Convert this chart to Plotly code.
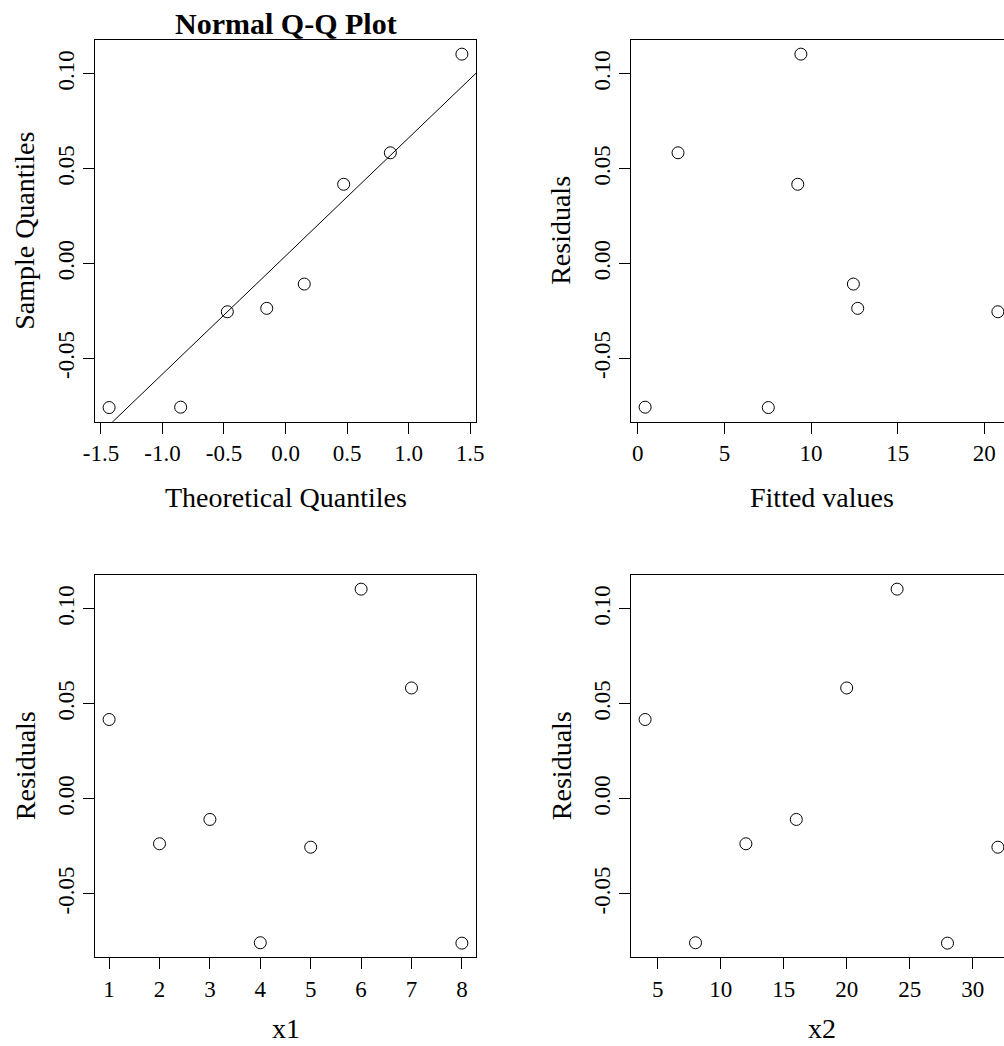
import numpy as np
import plotly.graph_objects as go

# ---------------- data ----------------
x1 = [1, 2, 3, 4, 5, 6, 7, 8]
x2 = [4, 12, 16, 8, 32, 24, 20, 28]
residuals = [0.0418, -0.0236, -0.0108, -0.0757, -0.0254, 0.1104, 0.0584, -0.0759]
fitted = [9.23, 12.69, 12.44, 0.42, 20.78, 9.41, 2.32, 7.53]
theoretical_q = [-1.4338, -0.8524, -0.4728, -0.1525, 0.1525, 0.4728, 0.8524, 1.4338]
sample_q = sorted(residuals)

qq_xticks = [-1.5, -1.0, -0.5, 0.0, 0.5, 1.0, 1.5]
qq_xticktext = ["-1.5", "-1.0", "-0.5", "0.0", "0.5", "1.0", "1.5"]
fit_xticks = [0, 5, 10, 15, 20]
fit_xticktext = ["0", "5", "10", "15", "20"]
x1_ticks = [1, 2, 3, 4, 5, 6, 7, 8]
x1_ticktext = ["1", "2", "3", "4", "5", "6", "7", "8"]
x2_ticks = [5, 10, 15, 20, 25, 30]
x2_ticktext = ["5", "10", "15", "20", "25", "30"]
resid_yticks = [-0.05, 0.0, 0.05, 0.10]
resid_yticktext = ["-0.05", "0.00", "0.05", "0.10"]

# ---------------- layout helpers ----------------
W, H = 1004, 1046
FONT = "Liberation Serif"
LX0, LX1 = 95, 476
RX0, RX1 = 631, 1012      # right panels extend past the page edge
TY0, TY1 = 40, 421.7
BY0, BY1 = 575, 957.3


def rrange(v):
    lo, hi = min(v), max(v)
    d = (hi - lo) * 0.04
    return [lo - d, hi + d]


def clipped(rng):
    lo, hi = rng
    frac = (W - RX0) / (RX1 - RX0)
    return [lo, lo + (hi - lo) * frac]


def px(x):
    return x / W


def py(y):
    return 1 - y / H


# qq line through the quartiles (as R's qqline)
yq = np.percentile(sample_q, [25, 75])
xq = np.array([-0.6744898, 0.6744898])
slope = (yq[1] - yq[0]) / (xq[1] - xq[0])
inter = yq[0] - slope * xq[0]
line_x = [-3, 3]
line_y = [inter + slope * v for v in line_x]

marker = dict(symbol="circle-open", size=12, color="black", line=dict(width=1, color="black"))

fig = go.Figure()
fig.add_trace(go.Scatter(x=theoretical_q, y=sample_q, mode="markers", marker=marker,
                         xaxis="x", yaxis="y", showlegend=False))
fig.add_trace(go.Scatter(x=line_x, y=line_y, mode="lines", line=dict(color="black", width=1),
                         xaxis="x", yaxis="y", showlegend=False))
fig.add_trace(go.Scatter(x=fitted, y=residuals, mode="markers", marker=marker,
                         xaxis="x2", yaxis="y2", showlegend=False))
fig.add_trace(go.Scatter(x=x1, y=residuals, mode="markers", marker=marker,
                         xaxis="x3", yaxis="y3", showlegend=False))
fig.add_trace(go.Scatter(x=x2, y=residuals, mode="markers", marker=marker,
                         xaxis="x4", yaxis="y4", showlegend=False))

tickfont = dict(family=FONT, size=23, color="black")


def xax(dom, rng, tv, tt, anchor, mirror=True):
    return dict(domain=dom, range=rng, tickvals=tv, ticktext=tt, anchor=anchor,
                showline=True, mirror=mirror, linecolor="black", linewidth=1,
                ticks="outside", ticklen=11, tickwidth=1, tickcolor="black",
                showgrid=False, zeroline=False, tickfont=tickfont, fixedrange=True,
                automargin=False)


def yax(dom, rng, anchor, mirror=True):
    return dict(domain=dom, range=rng, tickvals=resid_yticks, ticktext=resid_yticktext,
                anchor=anchor, showline=True, mirror=mirror, linecolor="black", linewidth=1,
                ticks="outside", ticklen=11, tickwidth=1, tickcolor="black", tickangle=-90,
                showgrid=False, zeroline=False, tickfont=tickfont, fixedrange=True,
                automargin=False)


ydomT = [py(TY1), py(TY0)]
ydomB = [py(BY1), py(BY0)]
xdomL = [px(LX0), px(LX1)]
xdomR = [px(RX0), 1.0]
yr = rrange(residuals)

fig.update_layout(
    width=W, height=H, margin=dict(l=0, r=0, t=0, b=0, pad=0, autoexpand=False),
    paper_bgcolor="white", plot_bgcolor="white",
    font=dict(family=FONT, color="black"),
    xaxis=xax(xdomL, rrange(theoretical_q), qq_xticks, qq_xticktext, "y"),
    yaxis=yax(ydomT, rrange(sample_q), "x"),
    xaxis2=xax(xdomR, clipped(rrange(fitted)), fit_xticks, fit_xticktext, "y2"),
    yaxis2=yax(ydomT, yr, "x2", mirror=False),
    xaxis3=xax(xdomL, rrange(x1), x1_ticks, x1_ticktext, "y3"),
    yaxis3=yax(ydomB, yr, "x3"),
    xaxis4=xax(xdomR, clipped(rrange(x2)), x2_ticks, x2_ticktext, "y4"),
    yaxis4=yax(ydomB, yr, "x4", mirror=False),
)

labfont = dict(family=FONT, size=28, color="black")
ann = []
ann.append(dict(text="<b>Normal Q-Q Plot</b>", x=px((LX0 + LX1) / 2), y=py(23),
                xref="paper", yref="paper", xanchor="center", yanchor="middle",
                showarrow=False, font=dict(family=FONT, size=30, color="black")))
for cx, cy, t in [((LX0 + LX1) / 2, 497, "Theoretical Quantiles"),
                  ((RX0 + RX1) / 2, 497, "Fitted values")]:
    ann.append(dict(text=t, x=px(cx), y=py(cy), xref="paper", yref="paper",
                    xanchor="center", yanchor="middle", showarrow=False, font=labfont))
for cx, t in [((LX0 + LX1) / 2, "x1"), ((RX0 + RX1) / 2, "x2")]:
    ann.append(dict(text=t, x=px(cx), y=0, xref="paper", yref="paper",
                    xanchor="center", yanchor="bottom", showarrow=False, font=labfont))
for cx, cy, t in [(25, (TY0 + TY1) / 2, "Sample Quantiles"),
                  (RX0 - 70, (TY0 + TY1) / 2, "Residuals"),
                  (25, (BY0 + BY1) / 2, "Residuals"),
                  (RX0 - 70, (BY0 + BY1) / 2, "Residuals")]:
    ann.append(dict(text=t, x=px(cx), y=py(cy), xref="paper", yref="paper", textangle=-90,
                    xanchor="center", yanchor="middle", showarrow=False, font=labfont))
fig.update_layout(annotations=ann)

fig.write_html("out.html", config={"displayModeBar": False})
